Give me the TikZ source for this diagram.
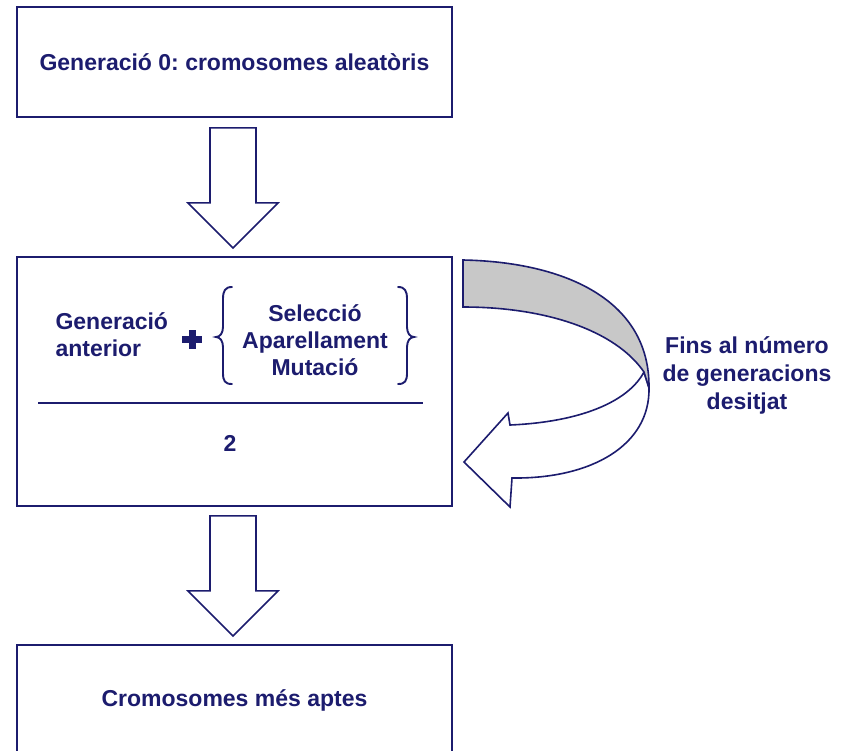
\documentclass[tikz,border=0pt]{standalone}
\usepackage{fontspec}
\setmainfont{Liberation Sans}
\usetikzlibrary{calc}
\definecolor{navy}{RGB}{28,28,110}
\definecolor{bandgray}{RGB}{200,200,200}
\frenchspacing
\begin{document}
\begin{tikzpicture}[x=1pt,y=-1pt,
  every node/.style={font=\fontsize{23}{27}\selectfont\bfseries, text=navy},
  box/.style={draw=navy, line width=1.8pt, minimum width=435pt, minimum height=110pt, inner sep=0pt},
  outline/.style={draw=navy, line width=1.6pt, line join=miter},
  bracestyle/.style={draw=navy, line width=1.9pt, line cap=round},
  blockarrow/.pic={
    \path[outline, fill=white] (-23,0) -- (-23,75) -- (-45,75) -- (0,120) -- (45,75) -- (23,75) -- (23,0) -- cycle;
  }]
\useasboundingbox (0,0) rectangle (845,750);
\fill[white] (0,0) rectangle (845,750);

% boxes
\node[box] (g0) at (234.5,62) {Generació 0: cromosomes aleatòris};
\node[box, minimum height=249pt] (loop) at (234.5,381.5) {};
\node[box] (best) at (234.5,700) {Cromosomes més aptes};

% block arrows between boxes
\coordinate (a1) at ($(g0.south)+(-1.5,10)$);
\coordinate (a2) at ($(loop.south)+(-1.5,9)$);
\pic at (a1) {blockarrow};
\pic at (a2) {blockarrow};

% inside the loop box
\node[anchor=west, align=left] (prev) at (52,335) {Generació\\anterior};
\coordinate (plus) at (192,339);
\fill[navy] ($(plus)+(-10,-3.5)$) rectangle ($(plus)+(10,3.5)$);
\fill[navy] ($(plus)+(-3.5,-9.5)$) rectangle ($(plus)+(3.5,9.5)$);
\node[align=center] (ops) at (315,340) {Selecció\\Aparellament\\Mutació};
% braces
\path[bracestyle] (232,287) .. controls (225,287) and (223,291) .. (223,299) -- (223,327)
  .. controls (223,333) and (220,337) .. (216,337)
  .. controls (220,337) and (223,341) .. (223,347) -- (223,373)
  .. controls (223,381) and (225,384) .. (232,384);
\path[bracestyle] (398,287) .. controls (405,287) and (407,291) .. (407,299) -- (407,327)
  .. controls (407,333) and (410,337) .. (414,337)
  .. controls (410,337) and (407,341) .. (407,347) -- (407,373)
  .. controls (407,381) and (405,384) .. (398,384);
\coordinate (ruleL) at (38,403);
\coordinate (ruleR) at (423,403);
\draw[navy, line width=1.8pt] (ruleL) -- (ruleR);
\node (two) at (230,443) {2};

% curved loop arrow
\path[outline, fill=white]
  (644,372) .. controls (628,402) and (580,422) .. (510,425)
  -- (508,413) -- (464,462) -- (510,507) -- (512,478)
  .. controls (592,479) and (650,445) .. (649,388) -- cycle;
\path[outline, fill=bandgray]
  (463,260) .. controls (565,262) and (650,300) .. (649,388)
  -- (644,372)
  .. controls (615,330) and (545,307) .. (463,307) -- cycle;

\node[align=center, font=\fontsize{23}{28}\selectfont\bfseries] (fins) at (747,375) {Fins al número\\de generacions\\desitjat};
\end{tikzpicture}
\end{document}
